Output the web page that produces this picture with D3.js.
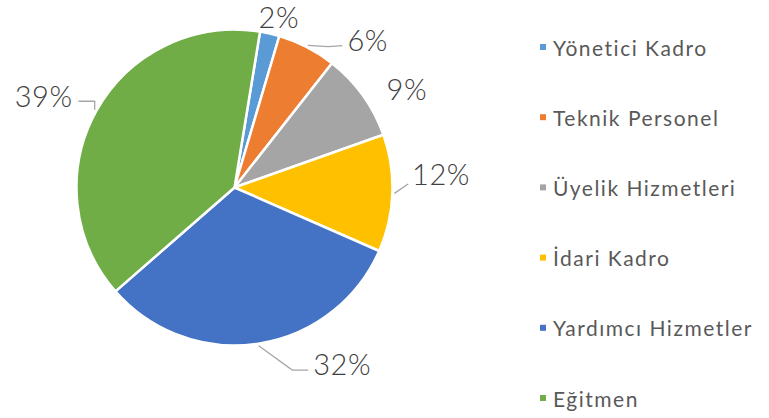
<!DOCTYPE html>
<html><head><meta charset="utf-8">
<script src="https://cdn.jsdelivr.net/npm/d3@7"></script>
<style>
html,body{margin:0;padding:0;background:#fff;}
svg{display:block;font-family:"Lato","Open Sans",sans-serif;}
</style></head>
<body>
<svg id="chart" width="769" height="418"></svg>
<script>
const categories = ["Yönetici Kadro","Teknik Personel","Üyelik Hizmetleri","İdari Kadro","Yardımcı Hizmetler","Eğitmen"];
const legendLabels = ["Yönetici Kadro","Teknik Personel","Üyelik Hizmetleri","İdari Kadro","Yardımcı Hizmetler","Eğitmen"];
const values = [2, 6, 9, 12, 32, 39];
const colors = ["#5b9bd5","#ed7d31","#a5a5a5","#ffc000","#4472c4","#70ad47"];

const svg = d3.select("#chart");
const cx = 234.5, cy = 187.5, R = 158;
const rot = 9.3 * Math.PI / 180;
const deg = Math.PI / 180;

const pie = d3.pie().sort(null).value(d => d).startAngle(rot).endAngle(rot + 2*Math.PI);
const arcs = pie(values);
const arc = d3.arc().innerRadius(0).outerRadius(R);

const g = svg.append("g").attr("transform", `translate(${cx},${cy})`);
g.selectAll("path").data(arcs).join("path")
  .attr("d", arc)
  .attr("fill", (d,i) => colors[i])
  .attr("stroke", "#fff")
  .attr("stroke-width", 2.5)
  .attr("stroke-linejoin", "round");

// label layout: polar placement (angle in degrees, distance) and leader style
const labelLayout = [
  {a: 14.5, r: 177, leader: null},
  {a: 42, r: 199, leader: "h"},
  {a: 60, r: 199, leader: null},
  {a: 86, r: 207, leader: "d"},
  {a: 148.5, r: 206, leader: "h"},
  {a: 295.8, r: 212, leader: "v"}
];
const pt = (ang, r) => [Math.sin(ang) * r, -Math.cos(ang) * r];

arcs.forEach((d, i) => {
  const L = labelLayout[i];
  const [lx, ly] = pt(L.a * deg, L.r);
  const txt = g.append("text")
    .attr("x", lx).attr("y", ly)
    .attr("text-anchor", "middle")
    .attr("dominant-baseline", "central")
    .attr("font-size", 29)
    .attr("font-weight", 300)
    .attr("letter-spacing", 0.5)
    .attr("fill", "#404040")
    .text(values[i] + "%");
  if (L.leader) {
    const mid = (d.startAngle + d.endAngle) / 2;
    const [sx, sy] = pt(mid, R + 2);
    const bb = txt.node().getBBox();
    let pts;
    if (L.leader === "h") {
      if (i === 1) {
        const ex = bb.x - 5, ey = ly + 6;
        pts = [[sx, sy], [ex - 14, ey + 1], [ex, ey]];
      } else {
        const ex = bb.x - 5, ey = ly + 7;
        pts = [[sx, sy], [ex - 16, ey], [ex, ey]];
      }
    } else if (L.leader === "d") {
      pts = [[sx, sy], [bb.x - 4, ly + 11]];
    } else {
      const ex = bb.x + bb.width + 6, ey = ly + 6;
      pts = [[sx, sy], [sx, ey], [ex, ey]];
    }
    g.insert("polyline", "text")
      .attr("points", pts.map(p => p.join(",")).join(" "))
      .attr("fill", "none")
      .attr("stroke", "#a6a6a6")
      .attr("stroke-width", 1.3);
  }
});

// legend
const ly = d3.scalePoint().domain(legendLabels).range([47, 398]);
const leg = svg.append("g");
legendLabels.forEach((name, i) => {
  leg.append("rect")
    .attr("x", 540).attr("y", ly(name) - 3)
    .attr("width", 6).attr("height", 6)
    .attr("fill", colors[i]);
  leg.append("text")
    .attr("x", 553).attr("y", ly(name))
    .attr("dominant-baseline", "central")
    .attr("font-size", 21)
    .attr("letter-spacing", 1.5)
    .attr("fill", "#595959")
    .text(name);
});
</script>
</body></html>
